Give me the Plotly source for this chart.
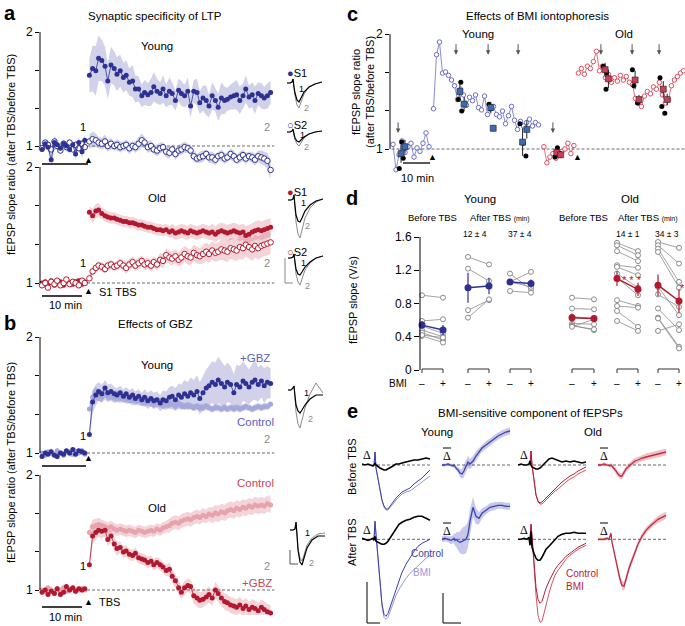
import plotly.graph_objects as go

W, H = 685, 626
SANS = "Liberation Sans, Arial, Helvetica, sans-serif"
SERIF = "Liberation Serif, Times New Roman, serif"

BLUE = "#2e3192"
BLUE_BAND = "rgba(70,74,170,0.25)"
BLUE_LIGHT = "#a6a8dc"
BLUE_TXT = "#5a5fc0"
RED = "#b2182f"
RED_BAND = "rgba(200,60,80,0.22)"
RED_LIGHT = "#e6a3ad"
RED_TXT = "#c8465c"
GRAY = "#8a8a8a"
C_BLUE = "#6a6ec6"
C_RED = "#dc4e60"
DASH = dict(color="#444", width=0.8, dash="3px,2px")

# ---------------- data: panels a and b (time in min, ratio after/before TBS) ----------------
t_pre = [-10, -9.3, -8.7, -8, -7.3, -6.7, -6, -5.3, -4.7, -4, -3.3, -2.7, -2, -1.3, -0.7]
t_post = [0.3, 1, 1.7, 2.3, 3, 3.7, 4.3, 5, 5.7, 6.3, 7, 7.7, 8.3, 9, 9.7, 10.3, 11, 11.7, 12.3, 13,
          13.7, 14.3, 15, 15.7, 16.3, 17, 17.7, 18.3, 19, 19.7, 20.3, 21, 21.7, 22.3, 23, 23.7, 24.3, 25,
          25.7, 26.3, 27, 27.7, 28.3, 29, 29.7, 30.3, 31, 31.7, 32.3, 33, 33.7, 34.3, 35, 35.7, 36.3, 37,
          37.7, 38.3, 39, 39.7]

a_young_s1_pre = [0.97, 1.02, 0.99, 0.88, 1.03, 1.01, 0.98, 1.02, 1.0, 0.97, 1.01, 0.93, 1.03, 0.95, 1.05]
a_young_s1_post = [1.62, 1.68, 1.66, 1.77, 1.75, 1.70, 1.57, 1.71, 1.68, 1.63,
                   1.66, 1.60, 1.62, 1.56, 1.57, 1.50, 1.50, 1.44, 1.47, 1.45,
                   1.47, 1.52, 1.48, 1.46, 1.50, 1.44, 1.48, 1.46, 1.40, 1.49,
                   1.46, 1.44, 1.48, 1.35, 1.48, 1.47, 1.38, 1.42, 1.40, 1.35,
                   1.44, 1.40, 1.34, 1.42, 1.40, 1.41, 1.43, 1.44, 1.45, 1.40,
                   1.44, 1.50, 1.43, 1.45, 1.40, 1.46, 1.44, 1.42, 1.44, 1.47]
a_young_s1_sem_pre = [0.03, 0.04, 0.03, 0.05, 0.06, 0.04, 0.03, 0.04, 0.03, 0.04, 0.03, 0.05, 0.04, 0.06, 0.05]
a_young_s1_sem_post = [0.15, 0.2, 0.22, 0.2, 0.18, 0.17, 0.16, 0.16, 0.15, 0.15,
                       0.14, 0.13, 0.13, 0.12, 0.14, 0.12, 0.11, 0.1, 0.11, 0.1,
                       0.12, 0.13, 0.11, 0.1, 0.12, 0.1, 0.12, 0.1, 0.09, 0.1,
                       0.11, 0.1, 0.12, 0.1, 0.1, 0.12, 0.1, 0.11, 0.13, 0.1,
                       0.12, 0.1, 0.12, 0.14, 0.12, 0.1, 0.11, 0.12, 0.13, 0.12,
                       0.11, 0.12, 0.1, 0.11, 0.12, 0.1, 0.11, 0.1, 0.11, 0.1]
a_young_s2_pre = [0.98, 1.03, 1.01, 0.97, 1.04, 1.0, 0.96, 1.02, 0.99, 1.03, 0.97, 1.01, 0.98, 1.02, 0.99]
a_young_s2_post = [1.04, 1.06, 1.05, 1.03, 1.02, 1.04, 1.0, 1.02, 1.0, 1.01,
                   0.99, 1.0, 1.01, 0.98, 1.0, 0.99, 1.02, 1.05, 1.03, 0.99,
                   1.0, 0.97, 0.96, 0.98, 0.99, 0.95, 0.94, 0.97, 0.93, 0.96,
                   0.97, 0.99, 0.98, 0.96, 0.91, 0.89, 0.90, 0.91, 0.93, 0.90,
                   0.90, 0.88, 0.91, 0.92, 0.89, 0.90, 0.93, 0.91, 0.88, 0.90,
                   0.92, 0.89, 0.91, 0.90, 0.88, 0.91, 0.90, 0.89, 0.87, 0.79]
a_young_s2_sem_pre = [0.03, 0.03, 0.04, 0.03, 0.03, 0.04, 0.03, 0.03, 0.04, 0.03, 0.03, 0.04, 0.03, 0.03, 0.04]
a_young_s2_sem_post = [0.06, 0.07, 0.06, 0.05, 0.05, 0.06, 0.05, 0.05, 0.04, 0.05,
                       0.05, 0.04, 0.05, 0.05, 0.04, 0.05, 0.06, 0.06, 0.05, 0.05,
                       0.05, 0.04, 0.05, 0.05, 0.04, 0.05, 0.05, 0.04, 0.05, 0.05,
                       0.05, 0.05, 0.04, 0.05, 0.05, 0.04, 0.05, 0.05, 0.04, 0.05,
                       0.05, 0.05, 0.04, 0.05, 0.05, 0.04, 0.05, 0.05, 0.04, 0.05,
                       0.05, 0.05, 0.04, 0.05, 0.05, 0.05, 0.06, 0.06, 0.07, 0.09]

a_old_s1_pre = [1.0, 1.01, 0.99, 1.02, 0.98, 1.0, 1.01, 0.98, 1.02, 1.0, 0.99, 1.01, 1.02, 0.99, 1.01]
a_old_s1_post = [1.61, 1.58, 1.62, 1.63, 1.60, 1.58, 1.57, 1.56, 1.56, 1.55,
                 1.54, 1.53, 1.53, 1.52, 1.52, 1.51, 1.50, 1.50, 1.49, 1.48,
                 1.48, 1.47, 1.46, 1.46, 1.45, 1.46, 1.44, 1.45, 1.43, 1.44,
                 1.45, 1.44, 1.43, 1.45, 1.44, 1.43, 1.44, 1.45, 1.44, 1.43,
                 1.44, 1.42, 1.44, 1.45, 1.44, 1.43, 1.44, 1.45, 1.44, 1.43,
                 1.44, 1.41, 1.42, 1.44, 1.45, 1.46, 1.45, 1.46, 1.47, 1.48]
a_old_s1_sem_pre = [0.02, 0.03, 0.02, 0.03, 0.02, 0.03, 0.02, 0.03, 0.02, 0.03, 0.02, 0.03, 0.02, 0.03, 0.02]
a_old_s1_sem_post = [0.05, 0.06, 0.06, 0.06, 0.05, 0.05, 0.05, 0.05, 0.05, 0.05,
                     0.05, 0.05, 0.05, 0.05, 0.05, 0.05, 0.05, 0.05, 0.05, 0.05,
                     0.05, 0.05, 0.05, 0.05, 0.05, 0.05, 0.05, 0.06, 0.06, 0.06,
                     0.06, 0.06, 0.06, 0.06, 0.06, 0.06, 0.06, 0.06, 0.06, 0.06,
                     0.07, 0.07, 0.07, 0.07, 0.07, 0.07, 0.07, 0.07, 0.07, 0.07,
                     0.07, 0.08, 0.08, 0.08, 0.08, 0.08, 0.08, 0.08, 0.08, 0.08]
a_old_s2_pre = [0.98, 1.0, 0.96, 1.01, 0.99, 1.02, 0.98, 1.0, 1.03, 0.99, 1.01, 1.0, 0.98, 1.02, 1.0]
a_old_s2_post = [1.04, 1.10, 1.13, 1.15, 1.14, 1.12, 1.15, 1.16, 1.14, 1.15,
                 1.17, 1.15, 1.13, 1.16, 1.18, 1.15, 1.17, 1.19, 1.16, 1.17,
                 1.15, 1.18, 1.16, 1.20, 1.19, 1.24, 1.22, 1.21, 1.23, 1.20,
                 1.22, 1.25, 1.23, 1.22, 1.26, 1.24, 1.23, 1.25, 1.27, 1.25,
                 1.28, 1.26, 1.27, 1.29, 1.28, 1.27, 1.30, 1.29, 1.28, 1.31,
                 1.30, 1.33, 1.31, 1.29, 1.32, 1.30, 1.32, 1.33, 1.34, 1.35]
a_old_s2_sem_pre = [0.02, 0.03, 0.03, 0.02, 0.03, 0.02, 0.03, 0.02, 0.03, 0.02, 0.03, 0.02, 0.03, 0.02, 0.03]
a_old_s2_sem_post = [0.03, 0.04, 0.04, 0.04, 0.04, 0.04, 0.04, 0.04, 0.04, 0.04,
                     0.04, 0.05, 0.05, 0.05, 0.05, 0.05, 0.05, 0.05, 0.05, 0.05,
                     0.05, 0.05, 0.05, 0.06, 0.06, 0.06, 0.06, 0.06, 0.06, 0.06,
                     0.07, 0.07, 0.07, 0.07, 0.07, 0.07, 0.07, 0.08, 0.08, 0.08,
                     0.08, 0.08, 0.08, 0.09, 0.09, 0.09, 0.09, 0.09, 0.09, 0.1,
                     0.1, 0.1, 0.1, 0.1, 0.1, 0.1, 0.1, 0.1, 0.1, 0.1]

b_sem_pre = [0.02, 0.03, 0.02, 0.03, 0.02, 0.03, 0.02, 0.03, 0.02, 0.03, 0.02, 0.03, 0.02, 0.03, 0.02]
b_young_gbz_pre = [0.97, 1.0, 0.99, 1.01, 0.98, 0.97, 1.0, 0.99, 1.02, 1.0, 1.03, 0.99, 1.02, 1.01, 1.0]
b_young_gbz_post = [1.16, 1.44, 1.50, 1.53, 1.51, 1.56, 1.52, 1.53, 1.51, 1.50,
                    1.52, 1.49, 1.51, 1.48, 1.50, 1.47, 1.49, 1.46, 1.48, 1.45,
                    1.47, 1.45, 1.46, 1.43, 1.46, 1.45, 1.48, 1.49, 1.46, 1.50,
                    1.48, 1.51, 1.49, 1.52, 1.50, 1.53, 1.47, 1.52, 1.56, 1.58,
                    1.61, 1.59, 1.63, 1.60, 1.57, 1.61, 1.59, 1.52, 1.59, 1.57,
                    1.62, 1.60, 1.57, 1.61, 1.63, 1.59, 1.62, 1.58, 1.61, 1.60]
b_young_gbz_sem_post = [0.05, 0.1, 0.09, 0.08, 0.08, 0.07, 0.07, 0.07, 0.06, 0.06,
                        0.06, 0.06, 0.06, 0.06, 0.06, 0.06, 0.06, 0.06, 0.07, 0.07,
                        0.07, 0.07, 0.07, 0.07, 0.08, 0.08, 0.09, 0.09, 0.1, 0.1,
                        0.11, 0.12, 0.12, 0.13, 0.13, 0.14, 0.14, 0.15, 0.16, 0.17,
                        0.18, 0.19, 0.2, 0.19, 0.18, 0.17, 0.16, 0.16, 0.17, 0.18,
                        0.17, 0.16, 0.15, 0.16, 0.17, 0.15, 0.14, 0.15, 0.14, 0.13]
b_young_ctrl_pre = [1.0, 0.98, 1.01, 1.0, 0.99, 1.02, 1.0, 0.98, 1.01, 1.0, 0.99, 1.01, 1.0, 1.02, 0.99]
b_young_ctrl_post = [1.38, 1.48, 1.51, 1.50, 1.49, 1.51, 1.49, 1.50, 1.48, 1.49,
                     1.47, 1.48, 1.46, 1.47, 1.45, 1.46, 1.45, 1.45, 1.44, 1.45,
                     1.44, 1.43, 1.44, 1.43, 1.42, 1.43, 1.42, 1.42, 1.41, 1.42,
                     1.41, 1.40, 1.41, 1.40, 1.39, 1.40, 1.39, 1.39, 1.40, 1.39,
                     1.38, 1.39, 1.39, 1.38, 1.39, 1.38, 1.39, 1.38, 1.39, 1.38,
                     1.39, 1.40, 1.39, 1.38, 1.39, 1.40, 1.39, 1.40, 1.40, 1.42]
b_young_ctrl_sem_post = [0.05, 0.06, 0.06, 0.05, 0.05, 0.05, 0.05, 0.05, 0.05, 0.05,
                         0.04, 0.04, 0.04, 0.04, 0.04, 0.04, 0.04, 0.04, 0.04, 0.04,
                         0.04, 0.04, 0.04, 0.04, 0.04, 0.04, 0.04, 0.04, 0.04, 0.04,
                         0.03, 0.03, 0.03, 0.03, 0.03, 0.03, 0.03, 0.03, 0.03, 0.03,
                         0.03, 0.03, 0.03, 0.03, 0.03, 0.03, 0.03, 0.03, 0.03, 0.03,
                         0.03, 0.03, 0.03, 0.03, 0.03, 0.03, 0.03, 0.03, 0.03, 0.03]
b_old_ctrl_pre = [1.0, 0.99, 1.02, 1.0, 0.98, 1.01, 1.0, 1.02, 0.99, 1.0, 1.01, 0.99, 1.0, 1.01, 1.0]
b_old_ctrl_post = [1.50, 1.55, 1.56, 1.57, 1.56, 1.55, 1.54, 1.55, 1.53, 1.52,
                   1.53, 1.52, 1.51, 1.52, 1.51, 1.50, 1.52, 1.51, 1.50, 1.51,
                   1.52, 1.51, 1.53, 1.52, 1.54, 1.55, 1.56, 1.58, 1.59, 1.58,
                   1.60, 1.61, 1.62, 1.61, 1.63, 1.64, 1.63, 1.65, 1.64, 1.66,
                   1.65, 1.67, 1.66, 1.68, 1.67, 1.69, 1.70, 1.69, 1.71, 1.70,
                   1.72, 1.71, 1.73, 1.72, 1.74, 1.73, 1.74, 1.73, 1.75, 1.74]
b_old_ctrl_sem_post = [0.05, 0.06, 0.06, 0.06, 0.05, 0.05, 0.05, 0.05, 0.05, 0.05,
                       0.05, 0.05, 0.05, 0.05, 0.05, 0.05, 0.05, 0.05, 0.05, 0.05,
                       0.05, 0.05, 0.05, 0.05, 0.05, 0.05, 0.06, 0.06, 0.06, 0.06,
                       0.06, 0.06, 0.06, 0.06, 0.06, 0.06, 0.06, 0.06, 0.06, 0.06,
                       0.07, 0.07, 0.07, 0.07, 0.07, 0.07, 0.07, 0.07, 0.07, 0.07,
                       0.07, 0.07, 0.07, 0.07, 0.07, 0.07, 0.07, 0.07, 0.07, 0.07]
b_old_gbz_pre = [0.98, 1.0, 0.96, 0.99, 0.97, 1.01, 0.96, 0.98, 1.03, 1.0, 1.02, 0.99, 1.01, 1.0, 1.01]
b_old_gbz_post = [1.22, 1.47, 1.50, 1.52, 1.51, 1.52, 1.44, 1.47, 1.40, 1.36,
                  1.37, 1.33, 1.34, 1.31, 1.30, 1.32, 1.28, 1.27, 1.26, 1.24,
                  1.25, 1.22, 1.24, 1.22, 1.20, 1.17, 1.18, 1.12, 1.08, 1.02,
                  0.98, 1.02, 1.04, 1.03, 0.95, 0.93, 0.91, 0.92, 0.94, 0.96,
                  0.93, 1.00, 0.97, 0.93, 0.90, 0.89, 0.87, 0.86, 0.85, 0.87,
                  0.84, 0.86, 0.83, 0.85, 0.84, 0.82, 0.85, 0.83, 0.81, 0.80]
b_old_gbz_sem_post = [0.05, 0.07, 0.07, 0.06, 0.06, 0.06, 0.06, 0.06, 0.06, 0.06,
                      0.05, 0.05, 0.05, 0.05, 0.05, 0.05, 0.05, 0.05, 0.05, 0.05,
                      0.05, 0.05, 0.05, 0.05, 0.05, 0.05, 0.06, 0.06, 0.06, 0.06,
                      0.06, 0.06, 0.06, 0.06, 0.07, 0.07, 0.07, 0.07, 0.07, 0.07,
                      0.07, 0.07, 0.07, 0.07, 0.07, 0.07, 0.07, 0.07, 0.07, 0.07,
                      0.07, 0.07, 0.07, 0.07, 0.07, 0.07, 0.07, 0.07, 0.07, 0.07]

# inset waveforms (a, b): time in ms-like units, amplitude in arbitrary units
t_inset = [0, 3, 5, 6, 7, 8, 10, 12, 14, 17, 22, 28, 35]
ins_ay_s1_1 = [0, 0, 1, 4, -4, -10, -17, -19, -15, -9, -4, -1, 1]
ins_ay_s1_2 = [0, 0, 1, 4, -5, -13, -22, -25, -19, -11, -4, -1, 1]
ins_ay_s2_1 = [0, 0, 1, 3, -2, -6, -9, -10, -8, -5, -2, 0, 1]
ins_ay_s2_2 = [0, 0, 1, 3, -3, -8, -12, -14, -11, -6, -2, 0, 1]
ins_ao_s1_1 = [0, 0, 1, 5, -6, -15, -21, -22, -18, -11, -5, -1, 1]
ins_ao_s1_2 = [0, 0, 1, 5, -8, -22, -34, -38, -30, -18, -8, -2, 1]
ins_ao_s2_1 = [0, 0, 1, 4, -4, -11, -16, -17, -14, -9, -4, 0, 2]
ins_ao_s2_2 = [0, 0, 1, 4, -6, -16, -24, -27, -21, -12, -5, 0, 2]
ins_by_1 = [0, 0, 2, 4, -6, -15, -21, -23, -20, -15, -9, -5, -5]
ins_by_2 = [0, 0, 2, 4, -8, -22, -34, -38, -30, -18, -4, 7, -3]
ins_bo_1 = [0, 0, 1, 8, -5, -20, -32, -35, -28, -18, -10, -6, -6]
ins_bo_2 = [0, 0, 1, 8, -5, -18, -28, -31, -25, -15, -8, -4, -3]

# ---------------- data: panel c ----------------
c_young_pre_t = [-13, -12, -11, -10, -9, -8, -7, -6, -5, -4, -3, -2, -1]
c_young_pre = [1.04, 0.82, 0.95, 1.07, 0.97, 1.02, 1.05, 0.93, 1.01, 0.98, 1.05, 1.14, 1.02]
c_post_t = [0.5, 1.5, 2.5, 3.5, 4.5, 5.5, 6.5, 7.5, 8.5, 9.5, 10.5, 11.5, 12.5, 13.5, 14.5, 15.5, 16.5, 17.5,
            18.5, 19.5, 20.5, 21.5, 22.5, 23.5, 24.5, 25.5, 26.5, 27.5, 28.5, 29.5, 30.5, 31.5, 32.5, 33.5,
            34.5, 35.5]
c_young_post = [1.35, 1.82, 1.93, 1.66, 1.67, 1.64, 1.60, 1.55, 1.43, 1.52,
                1.47, 1.38, 1.45, 1.42, 1.47, 1.36, 1.34, 1.46, 1.30, 1.35,
                1.37, 1.30, 1.28, 1.33, 1.22, 1.29, 1.37, 1.25, 1.17, 1.24,
                1.20, 1.23, 1.26, 1.20, 1.23, 1.21]
c_old_pre_t = [-11, -10, -9, -8, -7, -6, -5, -4, -3, -2, -1]
c_old_pre = [1.02, 0.88, 0.93, 0.96, 0.92, 0.95, 0.98, 1.0, 1.05, 0.96, 1.03]
c_old_post = [1.66, 1.70, 1.65, 1.72, 1.70, 1.76, 1.85, 1.68, 1.72, 1.62,
              1.65, 1.58, 1.62, 1.59, 1.64, 1.60, 1.63, 1.58, 1.56, 1.44,
              1.40, 1.37, 1.46, 1.50, 1.48, 1.54, 1.52, 1.58, 1.47, 1.40,
              1.43, 1.55, 1.60, 1.63, 1.66, 1.68]
c_sq_x = [-10.3, -9.0, 9.3, 10.7, 19.6, 20.4, 30.2, 31.6, 41.6, 42.9, 57.7, 58.8, 67.7, 69.0, 77.1, 78.4]
c_sq_y = [0.96, 1.02, 1.50, 1.39, 1.36, 1.18, 1.06, 1.17, 0.97, 0.95, 1.69, 1.61, 1.60, 1.43, 1.52, 1.43]
c_sq_err = [0.08, 0.06, 0.08, 0.06, 0.05, 0.03, 0.12, 0.08, 0.04, 0.03, 0.06, 0.08, 0.08, 0.04, 0.07, 0.05]
c_dot_x = [-10.9, -10.1, -9.6, 8.8, 9.6, 9.9, 19.0, 19.6, 29.3, 30.4, 31.3, 41.0, 41.8, 42.7,
           57.1, 58.0, 58.2, 66.8, 67.3, 68.5, 76.0, 76.6, 77.6]
c_dot_y = [0.83, 1.06, 0.92, 1.43, 1.58, 1.33, 1.39, 1.35, 1.22, 1.05, 0.94, 0.93, 1.01, 0.96,
           1.72, 1.52, 1.66, 1.69, 1.55, 1.40, 1.62, 1.37, 1.31]
c_arrow_x = [-11.3, 8, 18.7, 28.7, 40.3, 56.3, 66.7, 75.7]
c_arrow_y = [1.14, 1.82, 1.82, 1.82, 1.14, 1.82, 1.82, 1.82]

# ---------------- data: panel d (V/s) ----------------
d_ctrl = [[0.90, 0.59, 0.53, 0.48, 0.45, 0.41, 0.42],
          [1.36, 1.22, 0.72, 0.63],
          [1.16, 1.06, 0.95, 1.06],
          [0.87, 0.74, 0.64, 0.56, 0.54, 0.53, 0.52],
          [1.53, 1.50, 1.43, 1.26, 1.24, 1.16, 1.11, 0.84, 0.77, 0.71, 0.59],
          [1.54, 1.50, 1.46, 1.42, 1.00, 0.91, 0.74, 0.63, 0.62, 0.47]]
d_bmi = [[0.87, 0.61, 0.44, 0.40, 0.36, 0.33, 0.39],
         [1.27, 1.07, 0.84, 0.85],
         [0.97, 1.18, 0.93, 1.00],
         [0.85, 0.73, 0.62, 0.55, 0.48, 0.49, 0.61],
         [1.43, 1.38, 1.31, 1.23, 1.14, 0.99, 0.90, 0.77, 0.75, 0.52, 0.47],
         [1.47, 1.28, 1.06, 0.99, 0.66, 0.76, 0.48, 0.28, 0.26, 0.55]]
d_mean_ctrl = [0.54, 0.99, 1.06, 0.63, 1.10, 1.02]
d_mean_bmi = [0.48, 1.01, 1.04, 0.62, 0.97, 0.83]
d_err_ctrl = [0.05, 0.18, 0.03, 0.05, 0.09, 0.13]
d_err_bmi = [0.06, 0.10, 0.05, 0.04, 0.08, 0.14]

# ---------------- data: panel e (waveforms) ----------------
t_e = [0, 3, 6, 9, 11, 12, 13, 14, 16, 18, 20, 22, 24, 26, 28, 31, 34, 37, 40, 44, 48, 52, 56, 60, 64, 68]
e_yb_ctrl = [0, 1.3, -0.3, -1.5, -2.7, -3.5, -4.1, -4.4, -4.4, -4.1, -3.7, -3.3, -3.0, -2.7, -2.5, -2.3, -1.9, -1.6, -1.3, -0.9, -0.5]
e_yb_bmi = [0, 1.3, -0.3, -1.5, -2.7, -3.6, -4.2, -4.5, -4.5, -4.3, -3.9, -3.5, -3.2, -2.9, -2.7, -2.6, -2.3, -2.0, -1.7, -1.4, -1.1]
e_yb_delta = [0.1, 0, 0.1, 0, -0.1, 0, 0.2, 0, -0.2, -0.3, -0.4, -0.5, -0.5, -0.4, -0.3, -0.1, 0.1, 0.1, 0.2, 0.3, 0.4, 0.5, 0.5, 0.6, 0.7, 0.6]
e_yb_dbar = [0, 0, 0.1, 0, -0.1, 0, -0.2, -0.3, -0.5, -0.8, -0.9, -0.6, -0.1, 0.3, 0.1, 0.4, 0.9, 1.3, 1.7, 2.0, 2.3, 2.6, 2.9, 3.1, 3.3, 3.4]
e_yb_dbar_sem = [0.15, 0.15, 0.15, 0.15, 0.15, 0.2, 0.2, 0.25, 0.3, 0.4, 0.5, 0.6, 0.6, 0.6, 0.5, 0.5, 0.5, 0.4, 0.4, 0.4, 0.35, 0.35, 0.35, 0.35, 0.35, 0.35]
e_ya_ctrl = [0, 1.8, 0.5, -2.0, -4.5, -6.5, -7.5, -7.7, -7.4, -6.8, -5.8, -4.9, -4.0, -3.3, -2.5, -1.8, -1.2, -0.7, -0.4, -0.2, 0]
e_ya_bmi = [0, 1.8, 0.5, -2.0, -4.6, -6.7, -7.8, -8.0, -7.8, -7.2, -6.3, -5.6, -5.0, -4.5, -3.9, -3.4, -3.0, -2.6, -2.2, -1.9, -1.6]
e_ya_delta = [0.1, 0, -0.1, 0, 0.1, -0.1, 0.3, -0.2, -0.3, -0.4, -0.5, -0.5, -0.4, -0.2, 0.1, 0.5, 1.0, 1.5, 1.7, 1.9, 2.0, 2.2, 2.3, 2.3, 2.1, 1.9]
e_ya_dbar = [0, 0.1, 0, -0.1, 0, 0.1, -0.1, 0, -0.2, -0.3, -0.2, -0.1, 0, 0.5, 1.8, 3.2, 2.3, 2.1, 2.6, 2.9, 3.2, 3.3, 3.4, 3.4, 3.3, 3.3]
e_ya_dbar_sem = [0.3, 0.3, 0.3, 0.4, 0.4, 0.5, 0.6, 0.7, 0.9, 1.1, 1.3, 1.4, 1.4, 1.3, 1.2, 1.0, 0.8, 0.6, 0.5, 0.4, 0.4, 0.4, 0.35, 0.35, 0.35, 0.35]
e_ob_ctrl = [0, 1.4, 0, -1.8, -3.0, -3.6, -3.8, -3.7, -3.5, -3.2, -2.9, -2.6, -2.3, -2.0, -1.7, -1.4, -1.1, -0.9, -0.6, -0.4, -0.2]
e_ob_bmi = [0, 1.4, 0, -1.8, -3.0, -3.7, -3.9, -3.9, -3.7, -3.4, -3.2, -2.9, -2.6, -2.4, -2.0, -1.7, -1.4, -1.2, -0.9, -0.7, -0.5]
e_ob_delta = [0, 0.1, 0, 0, 0.1, 0.4, 0, -0.2, -0.3, -0.4, -0.4, -0.3, -0.1, 0.1, 0.4, 0.6, 0.7, 0.6, 0.5, 0.3, 0.4, 0.3, 0.4, 0.3, 0.2, 0.3]
e_ob_dbar = [0, 0, 0.1, 0, 0, -0.1, 0, -0.1, -0.3, -0.6, -0.9, -1.1, -1.1, -0.8, -0.4, -0.1, 0.2, 0.4, 0.5, 0.7, 0.8, 0.9, 1.0, 1.1, 1.2, 1.3]
e_ob_dbar_sem = [0.15, 0.15, 0.15, 0.15, 0.15, 0.15, 0.2, 0.2, 0.25, 0.3, 0.3, 0.3, 0.3, 0.3, 0.3, 0.3, 0.3, 0.3, 0.3, 0.3, 0.35, 0.35, 0.35, 0.35, 0.35, 0.35]
e_oa_ctrl = [0, 1.5, 0.3, -2.5, -4.8, -6.0, -6.4, -6.2, -5.5, -4.9, -4.2, -3.6, -3.0, -2.6, -2.1, -1.7, -1.4, -1.1, -0.8, -0.6, -0.4]
e_oa_bmi = [0, 1.5, 0.3, -2.8, -5.6, -7.6, -8.3, -8.2, -7.4, -6.4, -5.4, -4.4, -3.6, -3.1, -2.5, -2.0, -1.6, -1.3, -1.0, -0.8, -0.6]
e_oa_delta = [0, 0, 0.1, 0, 0.2, -0.6, 0.8, -0.8, -1.4, -1.9, -2.1, -2.1, -1.8, -1.4, -1.0, -0.7, -0.4, -0.1, 0.3, 0.5, 0.6, 0.6, 0.7, 0.6, 0.6, 0.6]
e_oa_dbar = [0, 0, 0, 0.1, 0, 0.3, 0.6, -0.3, -1.2, -2.2, -3.2, -4.0, -4.6, -4.7, -4.0, -2.9, -2.1, -1.3, -0.5, 0.3, 0.9, 1.3, 1.7, 2.0, 2.2, 2.4]
e_oa_dbar_sem = [0.15, 0.15, 0.15, 0.15, 0.15, 0.2, 0.2, 0.2, 0.25, 0.3, 0.35, 0.4, 0.45, 0.45, 0.4, 0.4, 0.35, 0.35, 0.3, 0.3, 0.3, 0.3, 0.3, 0.35, 0.35, 0.35]

fig = go.Figure()
n_axes = [0]


def lin(p, pa, va, pb, vb):
    return va + (p - pa) * (vb - va) / (pb - pa)


def lname(a):
    return a[0] + "axis" + a[1:]


def clamp(v):
    return min(1.0, max(0.0, v))


def make_axes(xl, xr, yt, yb, xrange, yrange):
    n_axes[0] += 1
    s = "" if n_axes[0] == 1 else str(n_axes[0])
    fig.update_layout({
        "xaxis" + s: dict(domain=[clamp(xl / W), clamp(xr / W)], range=xrange, anchor="y" + s, visible=False),
        "yaxis" + s: dict(domain=[clamp(1 - yb / H), clamp(1 - yt / H)], range=yrange, anchor="x" + s,
                          visible=False),
    })
    return "x" + s, "y" + s


def show_y(ax, vals, labels, y0, y1, ticklen=4):
    fig.update_layout({lname(ax[1]): dict(
        visible=True, showgrid=False, zeroline=False, showline=False, ticks="outside",
        ticklen=ticklen, tickwidth=1, tickcolor="black", tickvals=vals, ticktext=labels,
        tickfont=dict(size=12, family=SANS, color="black"))})
    fig.add_shape(type="line", xref=ax[0] + " domain", yref=ax[1], x0=0, x1=0, y0=y0, y1=y1,
                  line=dict(color="black", width=1))


def ratio_axes(yt, yb, p1, p2):
    ax = make_axes(40, 280, yt, yb, [lin(40, 88, 0, 134, 10), lin(280, 88, 0, 134, 10)],
                   [lin(yb, p1, 1, p2, 2), lin(yt, p1, 1, p2, 2)])
    show_y(ax, [1, 4 / 3, 5 / 3, 2], ["1", "", "", "2"], 1, 2)
    fig.add_shape(type="line", xref=ax[0], yref=ax[1], x0=-10, x1=40.5, y0=1, y1=1, layer="below",
                  line=DASH)
    return ax


def band(ax, x, m, s, color):
    up = [a + b for a, b in zip(m, s)]
    lo = [a - b for a, b in zip(m, s)]
    fig.add_trace(go.Scatter(x=list(x) + list(x)[::-1], y=up + lo[::-1], fill="toself", fillcolor=color,
                             line=dict(width=0), mode="lines", hoverinfo="skip",
                             xaxis=ax[0], yaxis=ax[1]))


def points(ax, x, y, color, open_=False, size=5, lw=0.8, mode="lines+markers"):
    fig.add_trace(go.Scatter(
        x=x, y=y, mode=mode, line=dict(color=color, width=lw),
        marker=dict(size=size, color="white" if open_ else color,
                    line=dict(color=color, width=1 if open_ else 0)),
        xaxis=ax[0], yaxis=ax[1], cliponaxis=False))


def line(ax, x, y, color, width=1):
    fig.add_trace(go.Scatter(x=x, y=y, mode="lines", line=dict(color=color, width=width),
                             xaxis=ax[0], yaxis=ax[1]))


def pline(x0, y0, x1, y1, color="black", width=1.2):
    fig.add_shape(type="line", xref="paper", yref="paper", x0=x0 / W, x1=x1 / W,
                  y0=1 - y0 / H, y1=1 - y1 / H, line=dict(color=color, width=width))


annots = []


def txt(x, y, s, size=11, color="black", xanchor="center", angle=0, family=SANS):
    annots.append(dict(x=x / W, y=1 - y / H, xref="paper", yref="paper", text=s, showarrow=False,
                       font=dict(size=size, color=color, family=family), xanchor=xanchor,
                       yanchor="middle", textangle=angle))


# ---------------- panel a ----------------
ax_ay = ratio_axes(25, 178, 146, 32)
ax_ao = ratio_axes(160, 300, 283, 167)
band(ax_ay, t_pre, a_young_s2_pre, a_young_s2_sem_pre, BLUE_BAND)
band(ax_ay, t_post, a_young_s2_post, a_young_s2_sem_post, BLUE_BAND)
band(ax_ay, t_post, a_young_s1_post, a_young_s1_sem_post, BLUE_BAND)
band(ax_ay, t_pre, a_young_s1_pre, a_young_s1_sem_pre, BLUE_BAND)
for t, y in ((t_pre, a_young_s2_pre), (t_post, a_young_s2_post)):
    points(ax_ay, t, y, BLUE, open_=True, size=5.5)
for t, y in ((t_pre, a_young_s1_pre), (t_post, a_young_s1_post)):
    points(ax_ay, t, y, BLUE, size=5)

band(ax_ao, t_pre, a_old_s2_pre, a_old_s2_sem_pre, RED_BAND)
band(ax_ao, t_post, a_old_s2_post, a_old_s2_sem_post, RED_BAND)
band(ax_ao, t_pre, a_old_s1_pre, a_old_s1_sem_pre, RED_BAND)
band(ax_ao, t_post, a_old_s1_post, a_old_s1_sem_post, RED_BAND)
for t, y in ((t_pre, a_old_s1_pre), (t_post, a_old_s1_post)):
    points(ax_ao, t, y, RED, size=5)
for t, y in ((t_pre, a_old_s2_pre), (t_post, a_old_s2_post)):
    points(ax_ao, t, y, RED, open_=True, size=5.5)

# ---------------- panel b ----------------
ax_by = ratio_axes(330, 470, 453, 337)
ax_bo = ratio_axes(468, 615, 590, 475)
band(ax_by, t_pre, b_young_ctrl_pre, b_sem_pre, BLUE_BAND)
band(ax_by, t_post, b_young_ctrl_post, b_young_ctrl_sem_post, BLUE_BAND)
band(ax_by, t_pre, b_young_gbz_pre, b_sem_pre, BLUE_BAND)
band(ax_by, t_post, b_young_gbz_post, b_young_gbz_sem_post, BLUE_BAND)
for t, y in ((t_pre, b_young_ctrl_pre), (t_post, b_young_ctrl_post)):
    points(ax_by, t, y, BLUE_LIGHT, size=5)
for t, y in ((t_pre, b_young_gbz_pre), (t_post, b_young_gbz_post)):
    points(ax_by, t, y, BLUE, size=5)

band(ax_bo, t_pre, b_old_ctrl_pre, b_sem_pre, RED_BAND)
band(ax_bo, t_post, b_old_ctrl_post, b_old_ctrl_sem_post, RED_BAND)
band(ax_bo, t_pre, b_old_gbz_pre, b_sem_pre, RED_BAND)
band(ax_bo, t_post, b_old_gbz_post, b_old_gbz_sem_post, RED_BAND)
for t, y in ((t_pre, b_old_ctrl_pre), (t_post, b_old_ctrl_post)):
    points(ax_bo, t, y, RED_LIGHT, size=5)
for t, y in ((t_pre, b_old_gbz_pre), (t_post, b_old_gbz_post)):
    points(ax_bo, t, y, RED, size=5)

# scale bars and TBS marks for a and b
for y_bar, x_end in ((164, 88), (296, 82), (466, 86), (607, 82)):
    pline(42, y_bar, x_end, y_bar, width=1.3)
for y_tri in (160, 291, 458, 602):
    txt(88, y_tri, "▲", 9)


# insets
def inset(x0, yt, yb, base, w1, w2, c1="black", c2=GRAY, lw1=1.2, lw2=1):
    ax = make_axes(x0, x0 + 35, yt, yb, [0, 35], [-(yb - base), base - yt])
    line(ax, t_inset, w2, c2, lw2)
    line(ax, t_inset, w1, c1, lw1)


inset(287, 75, 112, 83, ins_ay_s1_1, ins_ay_s1_2)
inset(287, 124, 150, 132, ins_ay_s2_1, ins_ay_s2_2)
inset(288, 192, 242, 200, ins_ao_s1_1, ins_ao_s1_2)
inset(288, 250, 290, 258, ins_ao_s2_1, ins_ao_s2_2)
inset(288, 380, 432, 390, ins_by_1, ins_by_2)
inset(290, 518, 570, 530, ins_bo_1, ins_bo_2)
pline(285, 258, 285, 283, GRAY, 1)
pline(285, 283, 293, 283, GRAY, 1)
pline(290, 550, 290, 564, "#555", 1)
pline(290, 564, 298, 564, "#555", 1)

# ---------------- panel c ----------------
OLD_OFFSET = 48.3
ax_c = make_axes(390, 685, 22, 180, [lin(390, 432, 0, 462, 10), lin(685, 432, 0, 462, 10)],
                 [lin(180, 149, 1, 34, 2), lin(22, 149, 1, 34, 2)])
show_y(ax_c, [1, 4 / 3, 5 / 3, 2], ["1", "", "", "2"], 1, 2)
fig.add_shape(type="line", xref=ax_c[0], yref=ax_c[1], x0=-13.5, x1=84.5, y0=1, y1=1, layer="below",
              line=DASH)
points(ax_c, c_young_pre_t, c_young_pre, C_BLUE, open_=True, size=4.5, lw=0.8)
points(ax_c, c_post_t, c_young_post, C_BLUE, open_=True, size=4.5, lw=0.8)
points(ax_c, [t + OLD_OFFSET for t in c_old_pre_t], c_old_pre, C_RED, open_=True, size=4.5, lw=0.8)
points(ax_c, [t + OLD_OFFSET for t in c_post_t], c_old_post, C_RED, open_=True, size=4.5, lw=0.8)
fig.add_trace(go.Scatter(x=c_dot_x, y=c_dot_y, mode="markers", marker=dict(size=5, color="black"),
                         xaxis=ax_c[0], yaxis=ax_c[1], cliponaxis=False))
fig.add_trace(go.Scatter(
    x=c_sq_x, y=c_sq_y, mode="markers",
    marker=dict(symbol="square", size=6, color=["#3d6bb3"] * 8 + ["#cc3f57"] * 8,
                line=dict(color="#222", width=0.6)),
    error_y=dict(type="data", array=c_sq_err, color="#222", thickness=1, width=0),
    xaxis=ax_c[0], yaxis=ax_c[1], cliponaxis=False))
for xa_, ya_ in zip(c_arrow_x, c_arrow_y):
    fig.add_annotation(x=xa_, y=ya_, xref=ax_c[0], yref=ax_c[1], ax=0, ay=-12, showarrow=True,
                       arrowhead=2, arrowsize=0.9, arrowwidth=1, arrowcolor="#555", text="")
pline(403, 163, 430, 163, width=1.3)
txt(432, 157, "▲", 9)
txt(577, 157, "▲", 9)

# ---------------- panel d ----------------
D_SLOTS = [(0, 21), (46, 67), (88, 109), (150, 172), (195, 216), (236, 257)]
ax_d = make_axes(420, 685, 225, 378, [-2, 263], [lin(378, 370, 0, 237, 1.6), lin(225, 370, 0, 237, 1.6)])
show_y(ax_d, [0, 0.4, 0.8, 1.2, 1.6], ["0", "0.4", "0.8", "1.2", "1.6"], 0, 1.6, ticklen=5)
for g, (xm, xp) in enumerate(D_SLOTS):
    xs, ys = [], []
    for b, a in zip(d_ctrl[g], d_bmi[g]):
        xs += [xm, xp, None]
        ys += [b, a, None]
    fig.add_trace(go.Scatter(x=xs, y=ys, mode="lines+markers", line=dict(color=GRAY, width=0.8),
                             marker=dict(size=5, color="white", line=dict(color=GRAY, width=1)),
                             xaxis=ax_d[0], yaxis=ax_d[1], cliponaxis=False))
for g, (xm, xp) in enumerate(D_SLOTS):
    col = BLUE if g < 3 else RED
    fig.add_trace(go.Scatter(
        x=[xm, xp], y=[d_mean_ctrl[g], d_mean_bmi[g]], mode="lines+markers",
        line=dict(color=col, width=1.5), marker=dict(size=7, color=col),
        error_y=dict(type="data", array=[d_err_ctrl[g], d_err_bmi[g]], color=col, thickness=1.2, width=0),
        xaxis=ax_d[0], yaxis=ax_d[1], cliponaxis=False))
    fig.add_shape(type="path", xref=ax_d[0], yref="paper",
                  path=f"M {xm},{1 - 373 / H} L {xm},{1 - 369 / H} L {xp},{1 - 369 / H} L {xp},{1 - 373 / H}",
                  line=dict(color="#333", width=1))
    for xv, s in ((xm, "–"), (xp, "+")):
        annots.append(dict(x=xv, y=1 - 383 / H, xref=ax_d[0], yref="paper", text=s, showarrow=False,
                           font=dict(size=10, family=SANS, color="black")))

# ---------------- panel e ----------------
E_COLS = [(362, 432), (442, 512), (518, 588), (598, 668)]
E_ROWS = [(425, 515, 465), (495, 626, 539.3)]
e_ax = {}
for r, (yt, yb, base) in enumerate(E_ROWS):
    for c, (xl, xr) in enumerate(E_COLS):
        e_ax[(r, c)] = make_axes(xl, xr, yt, yb, [0, 70], [-(yb - base) / 10, (base - yt) / 10])
        a_ = e_ax[(r, c)]
        fig.add_shape(type="line", xref=a_[0], yref=a_[1], x0=0, x1=68, y0=0, y1=0, layer="below",
                      line=DASH)

E_YC, E_YB = "#3a3fa8", "#9598d8"
E_OC, E_OB = "#b71c33", "#cf5566"
raw = [((0, 0), e_yb_ctrl, e_yb_bmi, e_yb_delta, E_YC, E_YB),
       ((1, 0), e_ya_ctrl, e_ya_bmi, e_ya_delta, E_YC, E_YB),
       ((0, 2), e_ob_ctrl, e_ob_bmi, e_ob_delta, E_OC, E_OB),
       ((1, 2), e_oa_ctrl, e_oa_bmi, e_oa_delta, E_OC, E_OB)]
for key, ctrl, bmi, delta, cc, cb in raw:
    a_ = e_ax[key]
    line(a_, t_e[5:], bmi, cb, 1)
    line(a_, t_e[5:], ctrl, cc, 1)
    line(a_, t_e, delta, "black", 1.6)

dbar = [((0, 1), e_yb_dbar, e_yb_dbar_sem, "rgba(70,74,185,0.3)", "#3d42b0"),
        ((1, 1), e_ya_dbar, e_ya_dbar_sem, "rgba(70,74,185,0.3)", "#3d42b0"),
        ((0, 3), e_ob_dbar, e_ob_dbar_sem, "rgba(200,50,70,0.3)", "#c42a40"),
        ((1, 3), e_oa_dbar, e_oa_dbar_sem, "rgba(200,50,70,0.3)", "#c42a40")]
for key, m, s, bc, lc in dbar:
    band(e_ax[key], t_e, m, s, bc)
    line(e_ax[key], t_e, m, lc, 1.3)

pline(367, 582, 367, 623, width=1)
pline(367, 623, 380, 623, width=1)
pline(443, 593, 443, 623, width=1)
pline(443, 623, 461, 623, width=1)

# ---------------- text ----------------
YT = "fEPSP slope ratio (after TBS/before TBS)"
txt(10, 13, "<b>a</b>", 20)
txt(155, 16, "Synaptic specificity of LTP", 11.5)
txt(157, 46, "Young", 11.5)
txt(11, 155, YT, 11, angle=-90)
txt(83, 127, "1", 11)
txt(267, 127, "2", 11, GRAY)
txt(285, 73, f'<span style="color:{BLUE}">●</span>S1', 11, xanchor="left")
txt(285, 125, f'<span style="color:{BLUE}">○</span>S2', 11, xanchor="left")
txt(301, 89, "1", 9)
txt(306, 108, "2", 9, GRAY)
txt(302, 135, "1", 9)
txt(306, 147, "2", 9, GRAY)
txt(157, 198, "Old", 11.5)
txt(83, 263, "1", 11)
txt(267, 263, "2", 11, GRAY)
txt(285, 192, f'<span style="color:{RED}">●</span>S1', 11, xanchor="left")
txt(285, 252, f'<span style="color:{RED}">○</span>S2', 11, xanchor="left")
txt(303, 203, "1", 9)
txt(307, 226, "2", 9, GRAY)
txt(303, 263, "1", 9)
txt(307, 286, "2", 9, GRAY)
txt(65, 305, "10 min", 11)
txt(97, 292, "S1 TBS", 11, xanchor="left")

txt(10, 323, "<b>b</b>", 20)
txt(155, 324, "Effects of GBZ", 11.5)
txt(157, 365, "Young", 11.5)
txt(255, 358, "+GBZ", 11.5, BLUE_TXT)
txt(255, 422, "Control", 11.5, BLUE_TXT)
txt(83, 436, "1", 11)
txt(267, 439, "2", 11, GRAY)
txt(11, 463, YT, 11, angle=-90)
txt(255, 483, "Control", 11.5, RED_TXT)
txt(157, 508, "Old", 11.5)
txt(83, 566, "1", 11)
txt(267, 566, "2", 11, GRAY)
txt(257, 583, "+GBZ", 11.5, RED_TXT)
txt(97, 602, "TBS", 11, xanchor="left")
txt(65, 617, "10 min", 11)
txt(306, 393, "1", 9)
txt(310, 419, "2", 9, GRAY)
txt(307, 533, "1", 9)
txt(311, 563, "2", 9, GRAY)

txt(352, 14, "<b>c</b>", 20)
txt(537, 16, "Effects of BMI iontophoresis", 11.5)
txt(478, 34, "Young", 11.5)
txt(624, 34, "Old", 11.5)
txt(363, 92, "fEPSP slope ratio<br>(after TBS/before TBS)", 11, angle=-90)
txt(417, 178, "10 min", 11)

txt(352, 198, "<b>d</b>", 20)
txt(480, 199, "Young", 11.5)
txt(630, 199, "Old", 11.5)
AFTER = 'After TBS <span style="font-size:7px">(min)</span>'
txt(432, 218, "Before TBS", 9.5)
txt(500, 218, AFTER, 9.5)
txt(583, 218, "Before TBS", 9.5)
txt(648, 218, AFTER, 9.5)
txt(475, 234, "12 ± 4", 8.5)
txt(520, 234, "37 ± 4", 8.5)
txt(628, 234, "14 ± 1", 8.5)
txt(667, 234, "34 ± 3", 8.5)
txt(353, 300, "fEPSP slope (V/s)", 11, angle=-90)
txt(398, 383, "BMI", 10)
txt(632, 280, "* * *", 11, RED)
txt(682, 288, "*", 11, RED)

txt(352, 411, "<b>e</b>", 20)
txt(530, 413, "BMI-sensitive component of fEPSPs", 11.5)
txt(437, 432, "Young", 11.5)
txt(593, 432, "Old", 11.5)
txt(352, 467, "Before TBS", 11, angle=-90)
txt(352, 543, "After TBS", 11, angle=-90)
for xx, yy, bar in ((367, 455, False), (447, 456, True), (524, 455, False), (604, 456, True),
                    (367, 530, False), (447, 531, True), (524, 530, False), (604, 531, True)):
    txt(xx, yy, "Δ", 12, family=SERIF)
    if bar:
        pline(xx - 4, yy - 8, xx + 4, yy - 8, width=1)
txt(427, 553, "Control", 10, E_YC)
txt(422, 572, "BMI", 10, E_YB)
txt(582, 573, "Control", 10, E_OC)
txt(575, 586, "BMI", 10, E_OC)

fig.update_layout(
    annotations=list(fig.layout.annotations) + annots,
    width=W, height=H, margin=dict(l=0, r=0, t=0, b=0),
    paper_bgcolor="white", plot_bgcolor="rgba(0,0,0,0)",
    showlegend=False, font=dict(family=SANS, size=11, color="black"),
)
fig.write_html("out.html", config={"displayModeBar": False},
               post_script="document.body.style.margin='0px';")
